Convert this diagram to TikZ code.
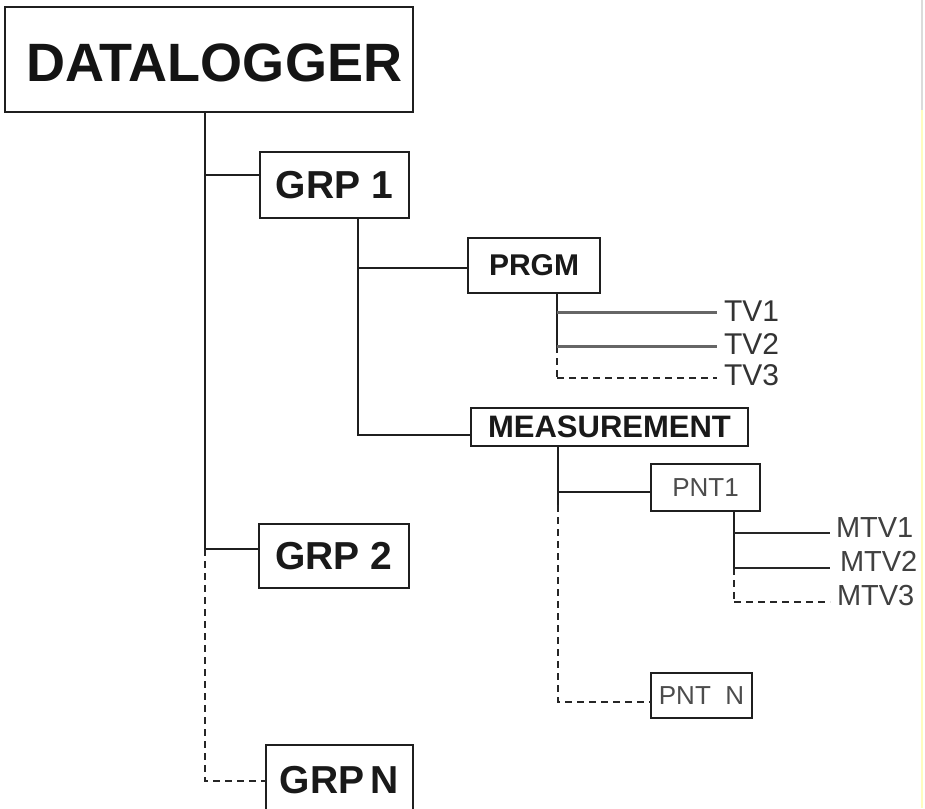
\documentclass[tikz,border=0pt]{standalone}
\usepackage{fontspec}
\setmainfont{Liberation Sans}
\begin{document}
\begin{tikzpicture}[x=1pt,y=-1pt,
  box/.style={draw=black!88,line width=2pt,inner sep=0pt,outer sep=0pt,text=black!90},
  conn/.style={draw=black!88,line width=2pt},
  dconn/.style={draw=black!85,line width=2pt,dash pattern=on 7pt off 5pt},
  tvline/.style={draw=black!60,line width=3pt},
  mline/.style={draw=black!85,line width=2pt},
  lbl/.style={anchor=west,inner sep=0pt,outer sep=0pt,font=\fontsize{30}{30}\selectfont},
  mlbl/.style={anchor=west,inner sep=0pt,outer sep=0pt,text=black!75,font=\fontsize{29}{29}\selectfont}]
\clip (0,0) rectangle (925,808);
\fill[white] (0,0) rectangle (925,808);
% faint right edge
\draw[black!14,line width=1.5pt] (922,0) -- (922,110);
\draw[yellow!25,line width=1.5pt] (922,110) -- (922,808);
% boxes
\node[box,minimum width=408,minimum height=105] (dl) at (209,59.5) {};
\node[inner sep=0pt,text=black!92,font=\bfseries\fontsize{54}{54}\selectfont] (dlt) at (214,63) {DATALOGGER};
\node[box,minimum width=149,minimum height=66,font=\bfseries\fontsize{39}{39}\selectfont] (g1) at (334.5,185) {GRP 1};
\node[box,minimum width=150,minimum height=64,font=\bfseries\fontsize{39}{39}\selectfont] (g2) at (334,556) {GRP 2};
\node[box,minimum width=147,minimum height=70,font=\bfseries\fontsize{39}{39}\selectfont] (gn) at (339.5,780) {GRP\,N};
\node[box,minimum width=132,minimum height=55,font=\bfseries\fontsize{30}{30}\selectfont] (prgm) at (534,265.5) {PRGM};
\node[box,minimum width=277,minimum height=38,font=\bfseries\fontsize{31}{31}\selectfont] (meas) at (609.5,427) {MEASUREMENT};
\node[box,minimum width=109,minimum height=47,text=black!70,font=\fontsize{26}{26}\selectfont] (pnt1) at (705.5,487.5) {PNT1};
\node[box,minimum width=101,minimum height=45,text=black!70,font=\fontsize{26}{26}\selectfont] (pntn) at (701.5,695.5) {PNT\ \ N};
% labels
\node[lbl,text=black!80] (tv1) at (724,311) {TV1};
\node[lbl,text=black!80] (tv2) at (724,344) {TV2};
\node[lbl,text=black!80] (tv3) at (724,375) {TV3};
\node[mlbl] (mtv1) at (836,528) {MTV1};
\node[mlbl] (mtv2) at (840,561) {MTV2};
\node[mlbl] (mtv3) at (837,596) {MTV3};
% junction coordinates
\coordinate (j1) at (205,175);
\coordinate (j2) at (205,549);
\coordinate (j3) at (205,781);
\coordinate (k1) at (358,268);
\coordinate (k2) at (358,435);
\coordinate (p1) at (557,312);
\coordinate (p2) at (557,346);
\coordinate (p3) at (557,378);
\coordinate (m1) at (558,492);
\coordinate (m2) at (558,505);
\coordinate (m3) at (558,702);
\coordinate (q1) at (734,533);
\coordinate (q2) at (734,568);
\coordinate (q3) at (734,602);
% trunk
\draw[conn] (dl.south -| j1) -- (j2) -- (j2 -| g2.west);
\draw[conn] (j1) -- (j1 -| g1.west);
\draw[dconn] (j2) -- (j3) -- (j3 -| gn.west);
% GRP 1 branch
\draw[conn] (g1.south -| k1) -- (k2) -- (k2 -| meas.west);
\draw[conn] (k1) -- (k1 -| prgm.west);
% PRGM branch
\draw[conn] (prgm.south -| p1) -- (p2);
\draw[dconn] (p2) -- (p3);
\draw[tvline] (p1) -- ([xshift=-7]p1 -| tv1.west);
\draw[tvline] (p2) -- ([xshift=-7]p2 -| tv2.west);
\draw[dconn] (p3) -- ([xshift=-7]p3 -| tv3.west);
% MEASUREMENT branch
\draw[conn] (meas.south -| m1) -- (m2);
\draw[conn] (m1) -- (m1 -| pnt1.west);
\draw[dconn] (m2) -- (m3) -- (m3 -| pntn.west);
% PNT1 branch
\draw[conn] (pnt1.south -| q1) -- (q2);
\draw[dconn] (q2) -- (q3);
\draw[mline] (q1) -- ([xshift=-6]q1 -| mtv1.west);
\draw[mline] (q2) -- ([xshift=-10]q2 -| mtv2.west);
\draw[dconn] (q3) -- ([xshift=-7]q3 -| mtv3.west);
\end{tikzpicture}
\end{document}
